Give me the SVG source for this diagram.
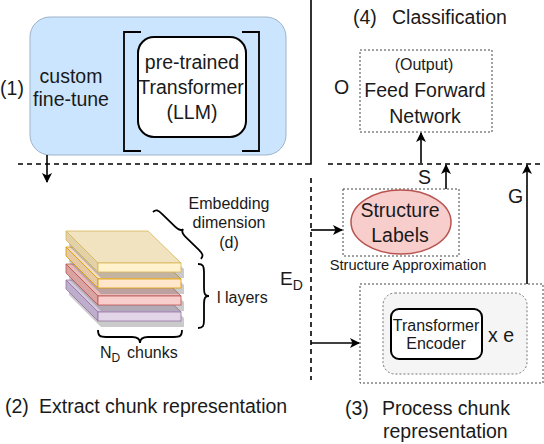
<svg xmlns="http://www.w3.org/2000/svg" width="544" height="444" viewBox="0 0 544 444">
<defs>
<style>
text{font-family:"Liberation Sans",Arial,sans-serif;fill:#1a1a1a}
.big{font-size:19.5px}
.mid{font-size:16px}
.c{text-anchor:middle}
.dot{fill:none;stroke:#444;stroke-width:1;stroke-dasharray:2 2}
.ln{fill:none;stroke:#000;stroke-width:1.6}
.dash{fill:none;stroke:#000;stroke-width:1.6;stroke-dasharray:5 4}
.br{fill:none;stroke:#000;stroke-width:1.8}
.shd{fill:#7a7a7a;opacity:0.4}
.y{stroke:#d6b656;stroke-width:0.8}
.o{stroke:#d79b00;stroke-width:0.8}
.p{stroke:#b85450;stroke-width:0.8}
.v{stroke:#9673a6;stroke-width:0.8}
</style>
<marker id="ah" viewBox="0 0 10 10" refX="9" refY="5" markerWidth="10" markerHeight="10" markerUnits="userSpaceOnUse" orient="auto">
<path d="M0,0 L10,5 L0,10 L2.5,5 Z" fill="#000"/>
</marker>
<path id="shadow" d="M69,6 L151,6 L184,38 L184,47 L101,47 L69,15 Z"/>
<path id="top" d="M66,0 L148,0 L181,32 L98,32 Z"/>
<path id="side" d="M66,0 L98,32 L98,41 L66,9 Z"/>
<rect id="front" x="98" y="32" width="83" height="9"/>
</defs>

<g id="finetune">
<rect x="30" y="17" width="256" height="138" rx="20" fill="#cce5ff" stroke="#9fb3c8" stroke-width="1"/>
<text class="big" x="12" y="95" text-anchor="middle">(1)</text>
<text class="big c" x="71" y="83">custom</text>
<text class="big c" x="71" y="106">fine-tune</text>
<path class="br" d="M141,32 L124,32 L124,151 L141,151"/>
<path class="br" d="M242,32 L259,32 L259,151 L242,151"/>
</g>

<g id="llm">
<rect x="138" y="37" width="108" height="100" rx="16" fill="#fff" stroke="#000" stroke-width="2"/>
<text class="big c" x="192" y="69">pre-trained</text>
<text class="big c" x="191" y="94">Transformer</text>
<text class="big c" x="192" y="119">(LLM)</text>
</g>

<g id="stack">
<g transform="translate(0,280)">
<use href="#shadow" class="shd"/>
<use href="#top" class="v" fill="#d6c8dc"/>
<use href="#side" class="v" fill="#bfaecb"/>
<use href="#front" class="v" fill="#e1d5e7"/>
</g>
<g transform="translate(0,264)">
<use href="#shadow" class="shd"/>
<use href="#top" class="p" fill="#e8bbba"/>
<use href="#side" class="p" fill="#d9a3a1"/>
<use href="#front" class="p" fill="#f8cecc"/>
</g>
<g transform="translate(0,247)">
<use href="#shadow" class="shd"/>
<use href="#top" class="o" fill="#f3dbbd"/>
<use href="#side" class="o" fill="#e6c8a3"/>
<use href="#front" class="o" fill="#ffe6cc"/>
</g>
<g transform="translate(0,231)">
<use href="#shadow" class="shd"/>
<use href="#top" class="y" fill="#f1e3bf"/>
<use href="#side" class="y" fill="#e3d2a8"/>
<use href="#front" class="y" fill="#fff2cc"/>
</g>
<path class="br" d="M0,0 C0,-4 2,-5 8,-5 L26,-5 C31,-5 33.5,-6 33.5,-9 C33.5,-6 36,-5 41,-5 L59,-5 C65,-5 67,-4 67,0" transform="translate(153,212) rotate(44.4)"/>
<path class="br" d="M198,264 C203,264 204,266 204,272 L204,288 C204,294 205,296 209,296 C205,296 204,298 204,304 L204,320 C204,326 203,328 198,328"/>
<path class="br" d="M98,330 C98,336 100,337 106,337 L132,337 C138,337 140,339 140,343 C140,339 142,337 148,337 L174,337 C180,337 182,336 182,330"/>
<text class="mid c" x="229" y="209">Embedding</text>
<text class="mid c" x="229" y="228">dimension</text>
<text class="mid c" x="229" y="248">(d)</text>
<text class="mid" x="217" y="303">l layers</text>
<text class="mid" x="100" y="358">N<tspan font-size="12" dy="4">D</tspan><tspan dy="-4" x="127">chunks</tspan></text>
<text class="big" x="5" y="413">(2)</text>
<text class="big" x="39" y="413">Extract chunk representation</text>
</g>

<g id="ffn">
<rect class="dot" x="360" y="50" width="132" height="82"/>
<text class="mid c" x="424" y="70">(Output)</text>
<text class="big c" x="425" y="97">Feed Forward</text>
<text class="big c" x="425" y="123">Network</text>
<text class="big" x="334" y="94">O</text>
<text class="big" x="353" y="24">(4)</text>
<text class="big" x="392" y="24">Classification</text>
</g>

<g id="structure">
<rect class="dot" x="343" y="189" width="116" height="67"/>
<ellipse cx="401" cy="222" rx="50" ry="32" fill="#f8cecc" stroke="#b85450" stroke-width="1.5"/>
<text class="big c" x="400" y="217">Structure</text>
<text class="big c" x="400" y="242">Labels</text>
<text x="408" y="270" text-anchor="middle" font-size="14.7">Structure Approximation</text>
</g>

<g id="encoder">
<rect class="dot" x="360" y="284" width="183" height="99"/>
<rect x="383" y="293" width="144" height="81" rx="12" fill="#f5f5f5" stroke="#777" stroke-width="1" stroke-dasharray="2 2"/>
<rect x="391" y="309" width="91" height="50" rx="8" fill="#fff" stroke="#000" stroke-width="2"/>
<text class="mid c" x="436" y="331">Transformer</text>
<text class="mid c" x="436" y="349">Encoder</text>
<text class="big" x="488" y="342">x e</text>
<text class="big" x="345" y="415">(3)</text>
<text class="big" x="382" y="415">Process chunk</text>
<text class="big" x="383" y="438">representation</text>
</g>

<g id="labels">
<text style="font-size:19px" x="280" y="285">E<tspan font-size="14" dy="5">D</tspan></text>
<text class="big" x="418" y="184">S</text>
<text class="big" x="508" y="203">G</text>
</g>

<g id="connectors">
<path class="dash" d="M18,164 L305,164"/>
<path class="dash" d="M328,164 L544,164"/>
<path class="ln" d="M311,0 L311,164 L305,164"/>
<path class="dash" d="M311,178 L311,380" stroke-width="2"/>
<path class="ln" d="M47,155 L47,182" marker-end="url(#ah)"/>
<path class="ln" d="M421,163 L421,133" marker-end="url(#ah)"/>
<path class="ln" d="M446,189 L446,165" marker-end="url(#ah)"/>
<path class="ln" d="M527,284 L527,165" marker-end="url(#ah)"/>
<path class="ln" d="M311,230 L342,230" marker-end="url(#ah)"/>
<path class="ln" d="M311,343 L359,343" marker-end="url(#ah)"/>
</g>
</svg>
